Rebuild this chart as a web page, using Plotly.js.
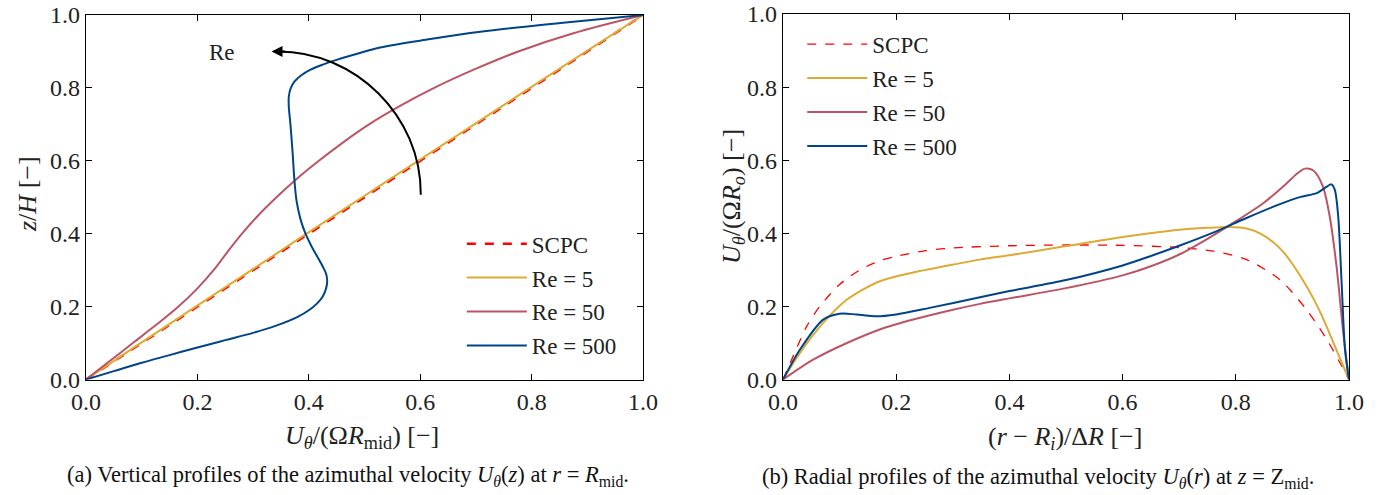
<!DOCTYPE html>
<html>
<head>
<meta charset="utf-8">
<script src="https://cdn.plot.ly/plotly-3.0.1.min.js"></script>
<style>html,body{margin:0;padding:0;background:#fff;}#plot{width:1394px;height:495px;}</style>
</head>
<body>
<div id="plot"></div>
<script>
// ---------- Left panel (a): vertical profiles, x = U/(Omega R_mid), y = z/H ----------
const a_scpc_u = [0, 1];
const a_scpc_z = [0, 1];
const a_re5_u = [0, 0.098, 0.197, 0.297, 0.396, 0.496, 0.596, 0.697, 0.797, 0.898, 1];
const a_re5_z = [0, 0.1, 0.2, 0.3, 0.4, 0.5, 0.6, 0.7, 0.8, 0.9, 1];
const a_re50_u = [0, 0.042, 0.084, 0.126, 0.166, 0.200, 0.229, 0.254, 0.280, 0.309, 0.342, 0.378, 0.418, 0.461, 0.508, 0.563, 0.625, 0.696, 0.776, 0.875, 1];
const a_re50_z = [0, 0.05, 0.1, 0.15, 0.2, 0.25, 0.3, 0.35, 0.4, 0.45, 0.5, 0.55, 0.6, 0.65, 0.7, 0.75, 0.8, 0.85, 0.9, 0.95, 1];
const a_re500_u = [0, 0.05, 0.1, 0.15, 0.2, 0.25, 0.3, 0.34, 0.38, 0.40, 0.415, 0.425, 0.431, 0.433, 0.431, 0.425, 0.416, 0.405, 0.394, 0.385, 0.378, 0.374, 0.371, 0.367, 0.364, 0.364, 0.367, 0.374, 0.386, 0.403, 0.425, 0.45, 0.49, 0.528, 0.618, 0.708, 0.852, 1];
const a_re500_z = [0, 0.023, 0.046, 0.067, 0.088, 0.108, 0.128, 0.147, 0.172, 0.19, 0.209, 0.228, 0.25, 0.27, 0.29, 0.31, 0.335, 0.365, 0.4, 0.44, 0.49, 0.55, 0.62, 0.7, 0.75, 0.775, 0.797, 0.817, 0.834, 0.85, 0.864, 0.877, 0.895, 0.911, 0.934, 0.954, 0.978, 1];

// ---------- Right panel (b): radial profiles, x = (r-Ri)/dR, y = U/(Omega R_o) ----------
const b_scpc_x = [0, 0.018, 0.042, 0.065, 0.1, 0.136, 0.171, 0.2, 0.25, 0.3, 0.4, 0.5, 0.6, 0.7, 0.76, 0.819, 0.878, 0.925, 0.961, 0.984, 1];
const b_scpc_y = [0, 0.064, 0.146, 0.200, 0.260, 0.300, 0.325, 0.337, 0.352, 0.360, 0.366, 0.368, 0.367, 0.361, 0.351, 0.328, 0.273, 0.191, 0.109, 0.046, 0];
const b_re5_x = [0, 0.03, 0.071, 0.113, 0.171, 0.23, 0.289, 0.348, 0.4, 0.5, 0.6, 0.7, 0.75, 0.79, 0.819, 0.845, 0.866, 0.885, 0.901, 0.92, 0.937, 0.952, 0.966, 0.983, 1];
const b_re5_y = [0, 0.073, 0.155, 0.219, 0.269, 0.293, 0.311, 0.328, 0.340, 0.365, 0.390, 0.410, 0.415, 0.417, 0.413, 0.398, 0.376, 0.347, 0.314, 0.268, 0.222, 0.175, 0.125, 0.062, 0];
const b_re50_x = [0, 0.054, 0.113, 0.171, 0.23, 0.289, 0.348, 0.4, 0.5, 0.6, 0.65, 0.7, 0.75, 0.79, 0.849, 0.89, 0.908, 0.922, 0.937, 0.954, 0.966, 0.978, 0.99, 1];
const b_re50_y = [0, 0.055, 0.100, 0.137, 0.164, 0.187, 0.207, 0.222, 0.250, 0.285, 0.310, 0.342, 0.385, 0.423, 0.483, 0.537, 0.563, 0.577, 0.572, 0.528, 0.446, 0.310, 0.127, 0];
const b_re500_x = [0, 0.03, 0.071, 0.1, 0.13, 0.165, 0.2, 0.259, 0.348, 0.4, 0.5, 0.6, 0.65, 0.7, 0.76, 0.819, 0.878, 0.913, 0.943, 0.961, 0.969, 0.975, 0.981, 0.987, 0.993, 1];
const b_re500_y = [0, 0.082, 0.164, 0.180, 0.178, 0.173, 0.178, 0.196, 0.225, 0.242, 0.272, 0.312, 0.338, 0.366, 0.402, 0.442, 0.480, 0.499, 0.510, 0.528, 0.534, 0.519, 0.446, 0.264, 0.082, 0];

const seriesNames = ['SCPC', 'Re = 5', 'Re = 50', 'Re = 500'];
const colors = {scpc: '#ff0000', re5: '#DDAA33', re50: '#BB5566', re500: '#004488'};
const FONT = 'Liberation Serif, Times New Roman, serif';

function tr(x, y, name, color, dash, width, xa, ya, leg, grp, sm) {
  return {x: x, y: y, name: name, type: 'scatter', mode: 'lines',
    line: {color: color, dash: dash, width: width, shape: 'spline', smoothing: sm},
    xaxis: xa, yaxis: ya, legend: leg, legendgroup: grp};
}

const data = [
  tr(a_scpc_u, a_scpc_z, seriesNames[0], colors.scpc, 'dash', 2.4, 'x', 'y', 'legend', 'a0', 1),
  tr(a_re5_u, a_re5_z, seriesNames[1], colors.re5, 'solid', 2, 'x', 'y', 'legend', 'a1', 1),
  tr(a_re50_u, a_re50_z, seriesNames[2], colors.re50, 'solid', 2, 'x', 'y', 'legend', 'a2', 1),
  tr(a_re500_u, a_re500_z, seriesNames[3], colors.re500, 'solid', 2, 'x', 'y', 'legend', 'a3', 1),
  tr(b_scpc_x, b_scpc_y, seriesNames[0], colors.scpc, 'dash', 1.3, 'x2', 'y2', 'legend2', 'b0', 0.8),
  tr(b_re5_x, b_re5_y, seriesNames[1], colors.re5, 'solid', 2, 'x2', 'y2', 'legend2', 'b1', 0.8),
  tr(b_re50_x, b_re50_y, seriesNames[2], colors.re50, 'solid', 2, 'x2', 'y2', 'legend2', 'b2', 0.8),
  tr(b_re500_x, b_re500_y, seriesNames[3], colors.re500, 'solid', 2, 'x2', 'y2', 'legend2', 'b3', 0.8)
];

const tickVals = [0, 0.2, 0.4, 0.6, 0.8, 1.0];
const tickText = ['0.0', '0.2', '0.4', '0.6', '0.8', '1.0'];

function ax(domain, anchor) {
  return {domain: domain, anchor: anchor, range: [0, 1], showgrid: false, zeroline: false,
    showline: true, mirror: 'ticks', linecolor: '#000', linewidth: 1.3,
    ticks: 'inside', ticklen: 6, tickwidth: 1.1, tickcolor: '#000',
    tickvals: tickVals, ticktext: tickText,
    tickfont: {family: FONT, size: 24, color: '#222'}, fixedrange: true};
}

const legFont = {family: FONT, size: 23, color: '#222'};
const titleFont = {family: FONT, size: 26, color: '#222'};

const layout = {
  width: 1394, height: 495,
  margin: {l: 0, r: 0, t: 0, b: 0},
  paper_bgcolor: '#fff', plot_bgcolor: '#fff',
  font: {family: FONT, color: '#222'},
  xaxis: ax([0.0617, 0.4613], 'y'),
  yaxis: ax([0.2333, 0.9697], 'x'),
  xaxis2: ax([0.5617, 0.9677], 'y2'),
  yaxis2: ax([0.2333, 0.9717], 'x2'),
  legend: {x: 0.3313, y: 0.551, xanchor: 'left', yanchor: 'top', bgcolor: 'rgba(0,0,0,0)',
    font: legFont, itemwidth: 60, traceorder: 'grouped', tracegroupgap: 1},
  legend2: {x: 0.5755, y: 0.954, xanchor: 'left', yanchor: 'top', bgcolor: 'rgba(0,0,0,0)',
    font: legFont, itemwidth: 60, traceorder: 'grouped', tracegroupgap: 1},
  shapes: [
    {type: 'path', xref: 'x', yref: 'y', path: 'M 0.601,0.507 C 0.602,0.724 0.483,0.900 0.345,0.900',
     line: {color: '#000', width: 2}}
  ],
  annotations: [
    {xref: 'x', yref: 'y', axref: 'x', ayref: 'y', x: 0.333, y: 0.9, ax: 0.36, ay: 0.9,
     text: '', showarrow: true, arrowhead: 2, arrowsize: 1.1, arrowwidth: 2, arrowcolor: '#000'},
    {xref: 'x', yref: 'y', x: 0.244, y: 0.898, text: 'Re', showarrow: false,
     font: {family: FONT, size: 23, color: '#222'}},
    // axis titles
    {xref: 'paper', yref: 'paper', x: 362 / 1394, y: 1 - 437 / 495, xanchor: 'center', yanchor: 'middle',
     text: '<i>U</i><sub><i>θ</i></sub>/(Ω<i>R</i><sub>mid</sub>) [−]', showarrow: false, font: titleFont},
    {xref: 'paper', yref: 'paper', x: 27 / 1394, y: 1 - 194 / 495, xanchor: 'center', yanchor: 'middle',
     text: '<i>z</i>/<i>H</i> [−]', textangle: -90, showarrow: false, font: titleFont},
    {xref: 'paper', yref: 'paper', x: 1065 / 1394, y: 1 - 438 / 495, xanchor: 'center', yanchor: 'middle',
     text: '(<i>r</i> − <i>R</i><sub><i>i</i></sub>)/Δ<i>R</i> [−]', showarrow: false, font: titleFont},
    {xref: 'paper', yref: 'paper', x: 733 / 1394, y: 1 - 197 / 495, xanchor: 'center', yanchor: 'middle',
     text: '<i>U</i><sub><i>θ</i></sub>/(Ω<i>R</i><sub><i>o</i></sub>) [−]', textangle: -90, showarrow: false, font: titleFont},
    // captions
    {xref: 'paper', yref: 'paper', x: 348 / 1394, y: 1 - 476 / 495, xanchor: 'center', yanchor: 'middle',
     text: '(a) Vertical profiles of the azimuthal velocity <i>U</i><sub><i>θ</i></sub>(<i>z</i>) at <i>r</i> = <i>R</i><sub>mid</sub>.',
     showarrow: false, font: {family: FONT, size: 22.5, color: '#111'}},
    {xref: 'paper', yref: 'paper', x: 1038 / 1394, y: 1 - 478 / 495, xanchor: 'center', yanchor: 'middle',
     text: '(b) Radial profiles of the azimuthal velocity <i>U</i><sub><i>θ</i></sub>(<i>r</i>) at <i>z</i> = Z<sub>mid</sub>.',
     showarrow: false, font: {family: FONT, size: 22.5, color: '#111'}}
  ]
};

Plotly.newPlot('plot', data, layout, {displayModeBar: false, staticPlot: true});
</script>
</body>
</html>
